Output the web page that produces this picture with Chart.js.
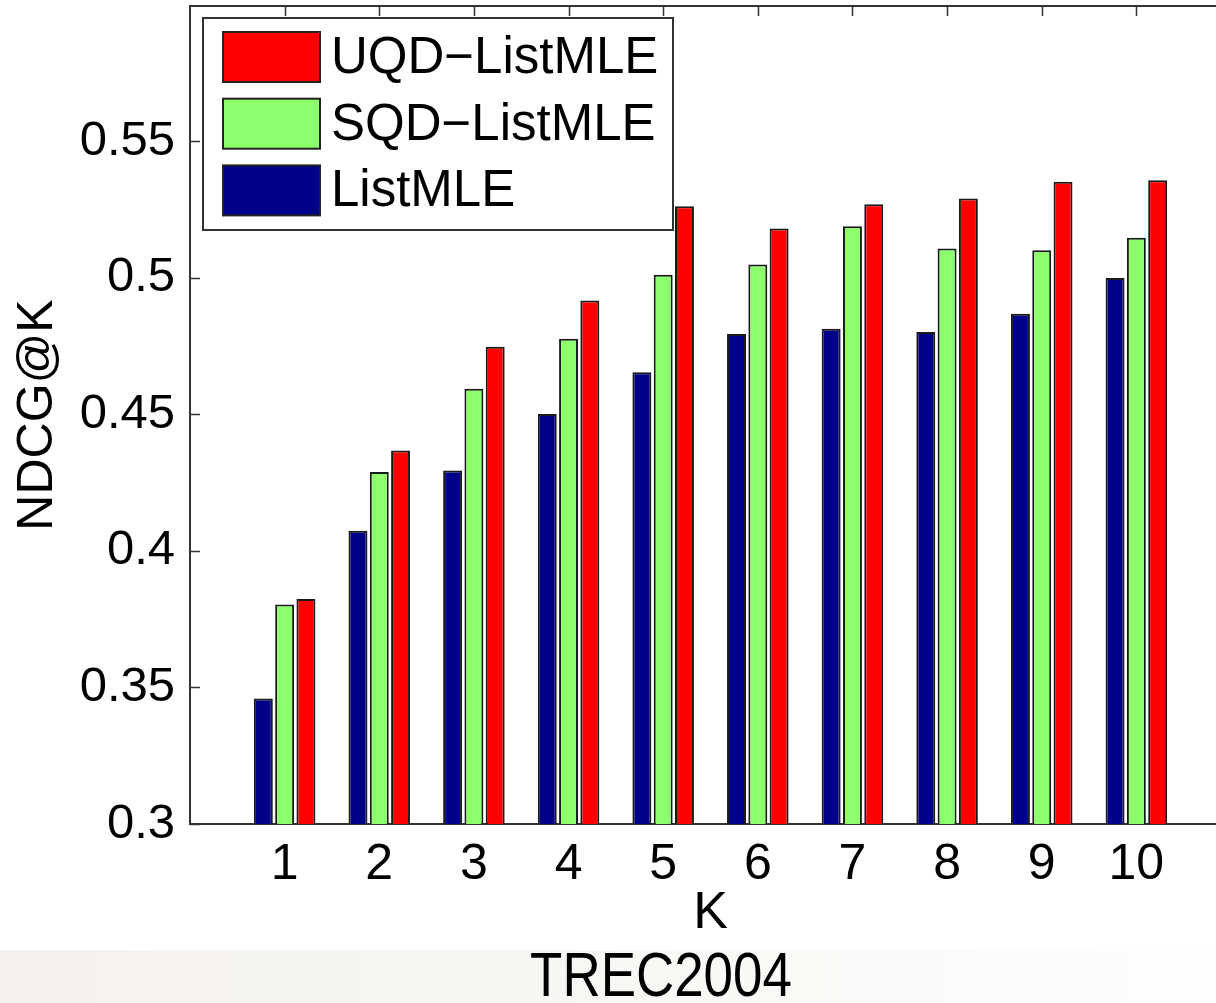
<!DOCTYPE html>
<html lang="en">
<head>
<meta charset="UTF-8">
<title>TREC2004 NDCG@K</title>
<script src="https://cdn.jsdelivr.net/npm/chart.js"></script>
<style>
  html, body { margin: 0; padding: 0; background: #fff; overflow: hidden; width: 1216px; height: 1003px; }
  #band {
    position: absolute; left: 0; top: 950px; width: 1216px; height: 53px;
    background: linear-gradient(to right, #f5f2ee 0%, #f7f6f3 40%, #fafaf8 70%, #fefefe 100%);
  }
  #wrap { position: absolute; left: 0; top: 0; width: 1250px; height: 950px; }
  #caption {
    position: absolute; left: 661px; top: 943px; transform: translateX(-50%) scaleX(0.84);
    font-family: "Liberation Sans", Arial, sans-serif;
    font-size: 63px; line-height: 63px; color: #000; white-space: nowrap;
  }
</style>
</head>
<body>
<div id="band"></div>
<div id="wrap"><canvas id="chart" width="1250" height="950"></canvas></div>
<div id="caption">TREC2004</div>

<script>
// values
const kValues = [1, 2, 3, 4, 5, 6, 7, 8, 9, 10];
const listMLE = [0.346, 0.4074, 0.4295, 0.4502, 0.4655, 0.4795, 0.4814, 0.4802, 0.4869, 0.5000];
const sqdListMLE = [0.3804, 0.4289, 0.4594, 0.4777, 0.5012, 0.5049, 0.5189, 0.5108, 0.5101, 0.5147];
const uqdListMLE = [0.3824, 0.4368, 0.4748, 0.4917, 0.5263, 0.5181, 0.5270, 0.5291, 0.5352, 0.5358];
const yTicks = [0.3, 0.35, 0.4, 0.45, 0.5, 0.55];

const FONT = '"Liberation Sans", Arial, sans-serif';

function pts(vals) {
    return kValues.map((k, i) => ({ x: k, y: vals[i] }));
}

// matlab style box with inward ticks
const axesBox = {
    id: 'axesBox',
    beforeDatasetsDraw(chart) {
        const { ctx, chartArea: a, scales } = chart;
        ctx.save();
        ctx.strokeStyle = '#333';
        ctx.lineWidth = 2;
        ctx.strokeRect(a.left, a.top, a.right - a.left, a.bottom - a.top);
        ctx.beginPath();
        kValues.forEach(k => {
            const x = Math.round(scales.x.getPixelForValue(k)) + 0.5;
            ctx.moveTo(x, a.bottom); ctx.lineTo(x, a.bottom - 10);
            ctx.moveTo(x, a.top); ctx.lineTo(x, a.top + 10);
        });
        yTicks.forEach(v => {
            const y = Math.round(scales.y.getPixelForValue(v)) + 0.5;
            ctx.moveTo(a.left, y); ctx.lineTo(a.left + 10, y);
            ctx.moveTo(a.right, y); ctx.lineTo(a.right - 10, y);
        });
        ctx.lineWidth = 1.5;
        ctx.stroke();
        ctx.restore();
    }
};

// legend box in the upper left corner, entries in reverse order
const boxLegend = {
    id: 'boxLegend',
    afterDraw(chart) {
        const { ctx, chartArea: a } = chart;
        const x0 = a.left + 13, y0 = a.top + 12;
        ctx.save();
        ctx.fillStyle = '#fff';
        ctx.fillRect(x0, y0, 470, 212);
        ctx.strokeStyle = '#333';
        ctx.lineWidth = 2;
        ctx.strokeRect(x0, y0, 470, 212);
        const sets = chart.data.datasets.slice().reverse();
        ctx.font = '51px ' + FONT;
        ctx.textBaseline = 'middle';
        sets.forEach((ds, i) => {
            const cy = y0 + 39 + i * 66.7;
            ctx.fillStyle = ds.backgroundColor;
            ctx.fillRect(x0 + 20, cy - 25, 97, 50);
            ctx.strokeStyle = '#222';
            ctx.lineWidth = 2;
            ctx.strokeRect(x0 + 20, cy - 25, 97, 50);
            ctx.fillStyle = '#000';
            ctx.fillText(ds.label, x0 + 128, cy + 2);
        });
        ctx.restore();
    }
};

new Chart(document.getElementById('chart'), {
    type: 'bar',
    data: {
        datasets: [
            { label: 'ListMLE', data: pts(listMLE), backgroundColor: '#000088' },
            { label: 'SQD\u2212ListMLE', data: pts(sqdListMLE), backgroundColor: '#8eff6c' },
            { label: 'UQD\u2212ListMLE', data: pts(uqdListMLE), backgroundColor: '#ff0000' }
        ]
    },
    options: {
        responsive: false,
        animation: false,
        devicePixelRatio: 1,
        layout: { padding: { top: 6, right: 19, left: 0, bottom: 0 } },
        datasets: {
            bar: {
                categoryPercentage: 0.675,
                barPercentage: 0.89,
                borderColor: '#1a1a1a',
                borderWidth: 2
            }
        },
        plugins: { legend: { display: false }, tooltip: { enabled: false } },
        scales: {
            x: {
                type: 'linear',
                min: 0,
                max: 11,
                offset: false,
                afterFit(s) { s.height = 126; s.paddingLeft = 0; s.paddingRight = 0; },
                afterBuildTicks(s) { s.ticks = kValues.map(v => ({ value: v })); },
                grid: { display: false, drawTicks: false },
                border: { display: false },
                ticks: { color: '#000', font: { family: FONT, size: 50 }, padding: 11, callback: v => String(v) },
                title: { display: true, text: 'K', color: '#000', font: { family: FONT, size: 52 }, padding: { top: 0, bottom: 5 } }
            },
            y: {
                min: 0.3,
                max: 0.5996,
                afterFit(s) { s.width = 190; s.paddingTop = 0; s.paddingBottom = 0; },
                afterBuildTicks(s) { s.ticks = yTicks.map(v => ({ value: v })); },
                grid: { display: false, drawTicks: false },
                border: { display: false },
                ticks: { color: '#000', font: { family: FONT, size: 49 }, padding: 15, callback: v => String(+v.toFixed(2)) },
                title: { display: true, text: 'NDCG@K', color: '#000', font: { family: FONT, size: 50 }, padding: { top: 8, bottom: 8 } }
            }
        }
    },
    plugins: [axesBox, boxLegend]
});
</script>
</body>
</html>
